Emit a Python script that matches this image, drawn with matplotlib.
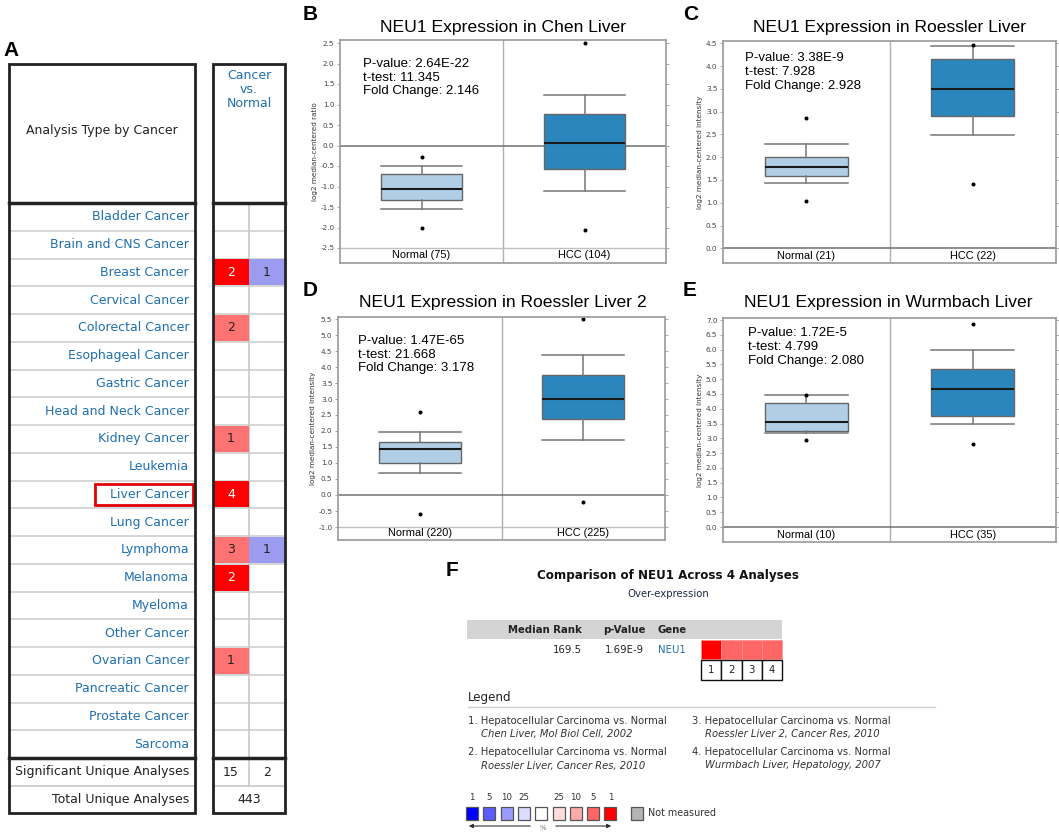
import matplotlib
matplotlib.use('Agg')
import matplotlib.pyplot as plt
from matplotlib.patches import Rectangle

W, H = 1059, 833

# ---- panel A data ----
cancer_types = ['Bladder Cancer', 'Brain and CNS Cancer', 'Breast Cancer', 'Cervical Cancer',
                'Colorectal Cancer', 'Esophageal Cancer', 'Gastric Cancer', 'Head and Neck Cancer',
                'Kidney Cancer', 'Leukemia', 'Liver Cancer', 'Lung Cancer', 'Lymphoma', 'Melanoma',
                'Myeloma', 'Other Cancer', 'Ovarian Cancer', 'Pancreatic Cancer', 'Prostate Cancer',
                'Sarcoma']
up_counts = [0, 0, 2, 0, 2, 0, 0, 0, 1, 0, 4, 0, 3, 2, 0, 0, 1, 0, 0, 0]
up_strong = [0, 0, 1, 0, 0, 0, 0, 0, 0, 0, 1, 0, 0, 1, 0, 0, 0, 0, 0, 0]
down_counts = [0, 0, 1, 0, 0, 0, 0, 0, 0, 0, 0, 0, 1, 0, 0, 0, 0, 0, 0, 0]
highlight = 'Liver Cancer'
sig_unique = [15, 2]
total_unique = 443

# ---- panels B-E data ----
groups = ['Normal', 'HCC']
titles = ['NEU1 Expression in Chen Liver', 'NEU1 Expression in Roessler Liver',
          'NEU1 Expression in Roessler Liver 2', 'NEU1 Expression in Wurmbach Liver']
sample_sizes = [(75, 104), (21, 22), (220, 225), (10, 35)]
p_values = ['2.64E-22', '3.38E-9', '1.47E-65', '1.72E-5']
t_tests = ['11.345', '7.928', '21.668', '4.799']
fold_changes = ['2.146', '2.928', '3.178', '2.080']
ylabels = ['log2 median-centered ratio', 'log2 median-centered intensity',
           'log2 median-centered intensity', 'log2 median-centered intensity']
y_ranges = [(-2.5, 2.5), (0.0, 4.5), (-1.0, 5.5), (0.0, 7.0)]

# (whislo, q1, med, q3, whishi)
normal_stats = [(-1.54, -1.33, -1.06, -0.69, -0.51),
                (1.43, 1.59, 1.78, 2.00, 2.30),
                (0.69, 1.00, 1.43, 1.67, 1.97),
                (3.18, 3.25, 3.56, 4.20, 4.46)]
normal_fliers = [[-0.29, -2.02], [2.86, 1.03], [2.58, -0.59], [4.48, 2.93]]
hcc_stats = [(-1.10, -0.58, 0.07, 0.76, 1.24),
             (2.48, 2.90, 3.50, 4.15, 4.44),
             (1.72, 2.39, 3.00, 3.76, 4.39),
             (3.50, 3.76, 4.68, 5.33, 6.00)]
hcc_fliers = [[2.50, -2.05], [4.46, 1.41], [5.49, -0.23], [6.86, 2.79]]

# ---- panel F data ----
median_rank = '169.5'
f_pvalue = '1.69E-9'
f_gene = 'NEU1'
analysis_levels = [1, 5, 5, 5]
legend_titles = ['Hepatocellular Carcinoma vs. Normal'] * 4
legend_refs = ['Chen Liver, Mol Biol Cell, 2002', 'Roessler Liver, Cancer Res, 2010',
               'Roessler Liver 2, Cancer Res, 2010', 'Wurmbach Liver, Hepatology, 2007']
key_labels = ['1', '5', '10', '25', '', '25', '10', '5', '1']
key_colors = ['#0000ff', '#5c5cff', '#9999ff', '#dcdcff', '#ffffff',
              '#ffdcdc', '#ffaaaa', '#ff6666', '#ff0000']

BLUE = '#1f6fb2'
RED = '#ff0000'
LIGHT_RED = '#ff7272'
LIGHT_BLUE = '#9b9bf0'
SANS = 'Liberation Sans'
UI = 'DejaVu Sans'

fig = plt.figure(figsize=(W / 100, H / 100), dpi=100)
ov = fig.add_axes([0, 0, 1, 1])
ov.set_xlim(0, W)
ov.set_ylim(H, 0)
ov.axis('off')

# panel letters
for letter, (lx, ly) in zip('ABCDEF', [(3, 50), (303, 14), (683, 14), (303, 291), (683, 291), (446, 571)]):
    ov.text(lx, ly, letter, family=SANS, weight='bold', fontsize=15, ha='left', va='center')

# ---------------- panel A ----------------
lx0, lx1 = 9, 195
rx0, rmid, rx1 = 213, 249, 285
head_top, head_bot = 64, 203
row_h = 27.75
n = len(cancer_types)
rows_bot = head_bot + n * row_h
sig_bot = rows_bot + 28
tot_bot = sig_bot + 27

for i, name in enumerate(cancer_types):
    y0 = head_bot + i * row_h
    yc = y0 + row_h / 2
    if i > 0:
        ov.plot([lx0, lx1], [y0, y0], color='#d0d0d0', lw=1.2)
        ov.plot([rx0, rx1], [y0, y0], color='#d0d0d0', lw=1.2)
    ov.text(189, yc, name, family=UI, fontsize=9, color=BLUE, ha='right', va='center')
    if name == highlight:
        ov.add_patch(Rectangle((95, yc - 10.5), 98, 21, fill=False, ec='#e00000', lw=2, zorder=5))
    if up_counts[i]:
        col = RED if up_strong[i] else LIGHT_RED
        ov.add_patch(Rectangle((rx0, y0 + 0.8), rmid - rx0, row_h - 1.6, fc=col, ec='none', zorder=3))
        ov.text((rx0 + rmid) / 2, yc, str(up_counts[i]), family=UI, fontsize=9,
                color='white' if up_strong[i] else '#222222', ha='center', va='center', zorder=4)
    if down_counts[i]:
        ov.add_patch(Rectangle((rmid, y0 + 0.8), rx1 - rmid, row_h - 1.6, fc=LIGHT_BLUE, ec='none', zorder=3))
        ov.text((rmid + rx1) / 2, yc, str(down_counts[i]), family=UI, fontsize=9,
                color='#222222', ha='center', va='center', zorder=4)

ov.plot([rmid, rmid], [head_bot, sig_bot], color='#c8c8c8', lw=1.2, zorder=2)
ov.plot([lx0, lx1], [sig_bot, sig_bot], color='#c8c8c8', lw=1.2)
ov.plot([rx0, rx1], [sig_bot, sig_bot], color='#c8c8c8', lw=1.2)
for xa, xb in [(lx0, lx1), (rx0, rx1)]:
    ov.add_patch(Rectangle((xa, head_top), xb - xa, tot_bot - head_top, fill=False, ec='#222222', lw=2, zorder=6))
    ov.plot([xa, xb], [head_bot, head_bot], color='#222222', lw=2.5, zorder=6)
    ov.plot([xa, xb], [rows_bot, rows_bot], color='#222222', lw=2.5, zorder=6)

ov.text((lx0 + lx1) / 2, 130, 'Analysis Type by Cancer', family=UI, fontsize=9, color='#222222',
        ha='center', va='center')
ov.text(rmid, 69, 'Cancer\nvs.\nNormal', family=UI, fontsize=9, color=BLUE, ha='center', va='top',
        linespacing=1.1)
ov.text(189, (rows_bot + sig_bot) / 2, 'Significant Unique Analyses', family=UI, fontsize=9,
        color='#222222', ha='right', va='center')
ov.text(189, (sig_bot + tot_bot) / 2, 'Total Unique Analyses', family=UI, fontsize=9,
        color='#222222', ha='right', va='center')
ov.text((rx0 + rmid) / 2, (rows_bot + sig_bot) / 2, str(sig_unique[0]), family=UI, fontsize=9,
        color='#222222', ha='center', va='center')
ov.text((rmid + rx1) / 2, (rows_bot + sig_bot) / 2, str(sig_unique[1]), family=UI, fontsize=9,
        color='#222222', ha='center', va='center')
ov.text(rmid, (sig_bot + tot_bot) / 2, str(total_unique), family=UI, fontsize=9,
        color='#222222', ha='center', va='center')

# ---------------- panels B-E ----------------
# frame x0, x1, top, bottom, pixel of top tick, pixel of bottom tick
frames = [(340, 666, 40, 263, 43, 248),
          (723, 1056, 41, 263, 43.3, 248.3),
          (338, 665, 317, 540, 319, 527),
          (723, 1056, 318, 542, 320, 527)]
title_pos = [(503, 27), (890, 27), (503, 303), (888, 303)]
stat_pos = [(0.07, 0.92), (0.066, 0.95), (0.06, 0.92), (0.075, 0.96)]

for k in range(4):
    x0, x1, top, bot, ptop, pbot = frames[k]
    vbot, vtop = y_ranges[k]
    scale = (pbot - ptop) / (vtop - vbot)
    ylo = vbot - (bot - pbot) / scale
    yhi = vtop + (ptop - top) / scale
    ax = fig.add_axes([x0 / W, 1 - bot / H, (x1 - x0) / W, (bot - top) / H])
    stats = []
    for s, fl, lab in [(normal_stats[k], normal_fliers[k], groups[0]), (hcc_stats[k], hcc_fliers[k], groups[1])]:
        stats.append(dict(whislo=s[0], q1=s[1], med=s[2], q3=s[3], whishi=s[4], fliers=fl, label=lab))
    bp = ax.bxp(stats, positions=[0, 1], widths=0.5, capwidths=0.5, patch_artist=True,
                boxprops=dict(edgecolor='#666666', linewidth=1.0),
                medianprops=dict(color='#1a1a1a', linewidth=1.5),
                whiskerprops=dict(color='#777777', linewidth=1.1),
                capprops=dict(color='#777777', linewidth=1.1),
                flierprops=dict(marker='o', markersize=1.9, markerfacecolor='black',
                                markeredgecolor='black'))
    for patch, fc in zip(bp['boxes'], ['#b0cfe6', '#2c86be']):
        patch.set_facecolor(fc)
    ax.set_xlim(-0.5, 1.5)
    ax.set_ylim(ylo, yhi)
    ax.axvline(0.5, color='#b0b0b0', lw=1.0, zorder=0)
    ax.axhline(0, color='#707070', lw=1.1, zorder=1)
    if vbot != 0:
        ax.axhline(vbot, color='#c0c0c0', lw=1.0, zorder=1)
    nticks = int(round((vtop - vbot) / 0.5)) + 1
    ticks = [vbot + 0.5 * j for j in range(nticks)]
    ax.set_yticks(ticks)
    ax.set_yticklabels(['%.1f' % t for t in ticks], family=UI, fontsize=5.2, color='#444444')
    ax.set_xticks([])
    ax.tick_params(axis='y', direction='out', length=2, width=0.6, color='#999999', pad=2,
                   right=True)
    for sp in ax.spines.values():
        sp.set_color('#9a9a9a')
        sp.set_linewidth(1.2)
    strip = (ylo + vbot) / 2
    for j, g in enumerate(groups):
        ax.text(j, strip, '%s (%d)' % (g, sample_sizes[k][j]), family=SANS, fontsize=7.9,
                ha='center', va='center')
    ax.set_ylabel(ylabels[k], family=UI, fontsize=5.2, color='#333333', labelpad=2)
    sx, sy = stat_pos[k]
    ax.text(sx, sy, 'P-value: %s\nt-test: %s\nFold Change: %s' % (p_values[k], t_tests[k], fold_changes[k]),
            transform=ax.transAxes, family=SANS, fontsize=9.5, ha='left', va='top', linespacing=1.2)
    tx, ty = title_pos[k]
    ov.text(tx, ty, titles[k], family=SANS, fontsize=12.6, ha='center', va='center')

# ---------------- panel F ----------------
ov.text(668, 576, 'Comparison of NEU1 Across %d Analyses' % len(analysis_levels), family=UI,
        weight='bold', fontsize=8.6, ha='center', va='center', color='#111111')
ov.text(668, 594, 'Over-expression', family=UI, fontsize=7.3, ha='center', va='center', color='#1e2a44')
ov.add_patch(Rectangle((467, 620), 315, 19, fc='#d4d4d4', ec='none'))
ov.text(582, 630, 'Median Rank', family=UI, weight='bold', fontsize=7.3, ha='right', va='center', color='#222222')
ov.text(603, 630, 'p-Value', family=UI, weight='bold', fontsize=7.3, ha='left', va='center', color='#222222')
ov.text(658, 630, 'Gene', family=UI, weight='bold', fontsize=7.3, ha='left', va='center', color='#222222')
ov.text(582, 650, median_rank, family=UI, fontsize=7.3, ha='right', va='center', color='#222222')
ov.text(605, 650, f_pvalue, family=UI, fontsize=7.3, ha='left', va='center', color='#222222')
ov.text(658, 650, f_gene, family=UI, fontsize=7.3, ha='left', va='center', color=BLUE)
cw = 20.25
for i, lev in enumerate(analysis_levels):
    cx = 701 + i * cw
    ov.add_patch(Rectangle((cx, 640), cw, 19, fc=RED if lev == 1 else '#ff6666', ec='#ff8c8c', lw=0.5))
    ov.add_patch(Rectangle((cx, 660), cw, 20, fc='white', ec='#111111', lw=1.0))
    ov.text(cx + cw / 2, 670, str(i + 1), family=UI, fontsize=7.3, ha='center', va='center', color='#222222')

ov.text(468, 698, 'Legend', family=UI, fontsize=8.6, ha='left', va='center', color='#222222')
ov.plot([468, 935], [707, 707], color='#cfcfcf', lw=1)
for i in range(4):
    lxp = 468 if i < 2 else 692
    lyp = 721 if i % 2 == 0 else 752
    ov.text(lxp, lyp, '%d. %s' % (i + 1, legend_titles[i]), family=UI, fontsize=7.2,
            ha='left', va='center', color='#333333')
    ov.text(lxp + 13, lyp + 13.5, legend_refs[i], family=UI, style='italic', fontsize=7.2,
            ha='left', va='center', color='#333333')

for i, (lab, col) in enumerate(zip(key_labels, key_colors)):
    kx = 466 + i * 17.3
    ov.add_patch(Rectangle((kx, 807), 12, 13, fc=col, ec='#555555', lw=0.9))
    if lab:
        ov.text(kx + 6, 798, lab, family=UI, fontsize=6.2, ha='center', va='center', color='#333333')
ov.add_patch(Rectangle((631, 807), 12, 13, fc='#b4b4b4', ec='#555555', lw=0.9))
ov.text(648, 813, 'Not measured', family=UI, fontsize=6.9, ha='left', va='center', color='#333333')
ov.annotate('', xy=(466, 826), xytext=(533, 826),
            arrowprops=dict(arrowstyle='-|>', color='#333333', lw=0.8, mutation_scale=6))
ov.annotate('', xy=(614, 826), xytext=(553, 826),
            arrowprops=dict(arrowstyle='-|>', color='#333333', lw=0.8, mutation_scale=6))
ov.text(543, 828, '%', family=UI, fontsize=5, ha='center', va='center', color='#777777')

fig.savefig('out.png', dpi=100)
